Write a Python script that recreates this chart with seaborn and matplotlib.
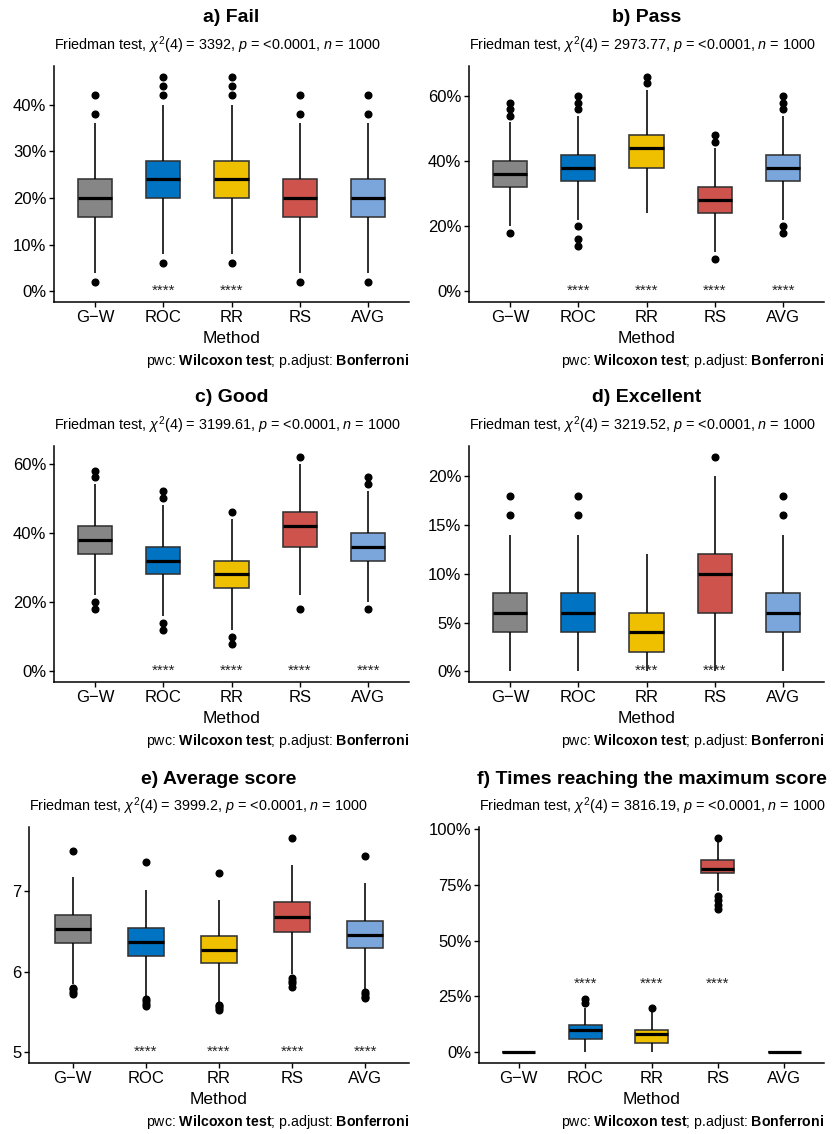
"""Six-panel boxplot grid: Friedman test results for the five weighting methods."""

import matplotlib

matplotlib.use("Agg")

import matplotlib.pyplot as plt
import pandas as pd
import seaborn as sns
from matplotlib.ticker import MultipleLocator, PercentFormatter

METHODS = ["G\u2212W", "ROC", "RR", "RS", "AVG"]
COLORS = ["#868686", "#0073C2", "#EFC000", "#CD534C", "#7AA6DC"]

# five-number summaries: lower whisker, q1, median, q3, upper whisker
fail_summary = [[4, 16, 20, 24, 36], [8, 20, 24, 28, 40], [8, 20, 24, 28, 40], [4, 16, 20, 24, 36], [4, 16, 20, 24, 36]]
fail_outliers = [[2, 38, 42], [6, 42, 44, 46], [6, 42, 44, 46], [2, 38, 42], [2, 38, 42]]
fail_signif = ["", "****", "****", "", ""]

pass_summary = [[20, 32, 36, 40, 52], [22, 34, 38, 42, 54], [24, 38, 44, 48, 62], [12, 24, 28, 32, 44], [22, 34, 38, 42, 54]]
pass_outliers = [[18, 54, 56, 58], [14, 16, 20, 56, 58, 60], [64, 66], [10, 46, 48], [18, 20, 56, 58, 60]]
pass_signif = ["", "****", "****", "****", "****"]

good_summary = [[22, 34, 38, 42, 54], [16, 28, 32, 36, 48], [12, 24, 28, 32, 44], [22, 36, 42, 46, 60], [20, 32, 36, 40, 52]]
good_outliers = [[18, 20, 56, 58], [12, 14, 50, 52], [8, 10, 46], [18, 62], [18, 54, 56]]
good_signif = ["", "****", "****", "****", "****"]

excellent_summary = [[0, 4, 6, 8, 14], [0, 4, 6, 8, 14], [0, 2, 4, 6, 12], [0, 6, 10, 12, 20], [0, 4, 6, 8, 14]]
excellent_outliers = [[16, 18], [16, 18], [], [22], [16, 18]]
excellent_signif = ["", "", "****", "****", ""]

score_summary = [
    [5.85, 6.355, 6.53, 6.707, 7.178],
    [5.70, 6.19, 6.364, 6.537, 7.012],
    [5.62, 6.107, 6.273, 6.446, 6.888],
    [5.97, 6.488, 6.678, 6.86, 7.326],
    [5.79, 6.289, 6.459, 6.632, 7.099],
]
score_outliers = [
    [5.72, 5.75, 5.78, 5.80, 7.50],
    [5.58, 5.60, 5.63, 5.66, 7.355],
    [5.53, 5.55, 5.57, 5.59, 7.223],
    [5.81, 5.86, 5.89, 5.92, 7.661],
    [5.67, 5.69, 5.72, 5.75, 7.434],
]
score_signif = ["", "****", "****", "****", "****"]

maxhit_summary = [[0, 0, 0, 0, 0], [0, 6, 10, 12, 20], [0, 4, 8, 10, 18], [72, 80, 82, 86, 94], [0, 0, 0, 0, 0]]
maxhit_outliers = [[], [22, 24], [20], [64, 66, 68, 70, 96], []]
maxhit_signif = ["", "****", "****", "****", ""]

PANELS = [
    ("a) Fail", "3392", fail_summary, fail_outliers, fail_signif, 0, 10, True),
    ("b) Pass", "2973.77", pass_summary, pass_outliers, pass_signif, 0, 20, True),
    ("c) Good", "3199.61", good_summary, good_outliers, good_signif, 0, 20, True),
    ("d) Excellent", "3219.52", excellent_summary, excellent_outliers, excellent_signif, 0, 5, True),
    ("e) Average score", "3999.2", score_summary, score_outliers, score_signif, 5, 1, False),
    ("f) Times reaching the maximum score", "3816.19", maxhit_summary, maxhit_outliers, maxhit_signif, 30.6, 25, True),
]

# panel frames in pixels: left, right, top, bottom
FRAMES = [
    (54, 409, 66, 302),
    (469, 824, 66, 302),
    (54, 409, 446, 682),
    (469, 824, 446, 682),
    (29, 409, 827, 1063),
    (479, 824, 827, 1063),
]

W, H = 834, 1134
INK = "black"


def rebuild_sample(summary, outliers, reps=50):
    # a sample whose box statistics reproduce the summary
    lo, q1, med, q3, hi = summary
    return [lo] + [q1] * reps + [med] * reps + [q3] * reps + [hi] + list(outliers)


def panel_frame(summary, outliers):
    rows = []
    for method, stats, extra in zip(METHODS, summary, outliers):
        for value in rebuild_sample(stats, extra):
            rows.append({"method": method, "value": value})
    return pd.DataFrame(rows)


sns.set_theme(style="ticks")
plt.rcParams["font.family"] = ["Liberation Sans", "DejaVu Sans"]
plt.rcParams["mathtext.fontset"] = "custom"
plt.rcParams["mathtext.rm"] = "Liberation Sans"
plt.rcParams["mathtext.it"] = "Liberation Sans:italic"
plt.rcParams["mathtext.bf"] = "Liberation Sans:bold"
plt.rcParams["text.color"] = INK

fig = plt.figure(figsize=(W / 100, H / 100), dpi=100)

for (title, chi2, summary, outliers, signif, sig_y, step, percent), (left, right, top, bottom) in zip(PANELS, FRAMES):
    ax = fig.add_axes([left / W, 1 - bottom / H, (right - left) / W, (bottom - top) / H])
    frame = panel_frame(summary, outliers)
    sns.boxplot(
        data=frame,
        x="method",
        y="value",
        hue="method",
        order=METHODS,
        hue_order=METHODS,
        palette=COLORS,
        saturation=1,
        width=0.5,
        linewidth=1.15,
        linecolor="black",
        showcaps=False,
        fliersize=4.8,
        legend=False,
        ax=ax,
        boxprops={"edgecolor": "#333333"},
        medianprops={"color": "black", "linewidth": 2.3},
        flierprops={"marker": "o", "markerfacecolor": "black", "markeredgecolor": "black"},
    )

    for idx, label in enumerate(signif):
        if label:
            ax.text(idx, sig_y, label, ha="center", va="center", fontsize=11, color="#222222")

    values = frame["value"].tolist() + [sig_y]
    span = max(values) - min(values)
    ax.set_ylim(min(values) - 0.05 * span, max(values) + 0.05 * span)
    ax.set_xlim(-0.6, 4.6)
    ax.yaxis.set_major_locator(MultipleLocator(step))
    if percent:
        ax.yaxis.set_major_formatter(PercentFormatter(xmax=100, decimals=0))

    sns.despine(ax=ax)
    for side in ("left", "bottom"):
        ax.spines[side].set_linewidth(1.1)
        ax.spines[side].set_color("black")
    ax.tick_params(axis="both", length=3.5, width=1.0, color="black", labelsize=12, labelcolor=INK, pad=2)
    ax.set_xlabel("Method", fontsize=12.5, labelpad=4.5, color=INK)
    ax.set_ylabel("")

    center = (left + right) / 2
    fig.text(center / W, 1 - (top - 48) / H, title, ha="center", va="center", fontsize=14, fontweight="bold")
    fig.text(
        left / W,
        1 - (top - 21) / H,
        rf"Friedman test, $\chi^2$(4) = {chi2}, $p$ = <0.0001, $n$ = 1000",
        ha="left",
        va="center",
        fontsize=10.4,
    )
    fig.text(
        right / W,
        1 - (bottom + 59) / H,
        r"pwc: $\mathbf{Wilcoxon\ test}$; p.adjust: $\mathbf{Bonferroni}$",
        ha="right",
        va="center",
        fontsize=10.2,
    )

fig.savefig("out.png", dpi=100)
